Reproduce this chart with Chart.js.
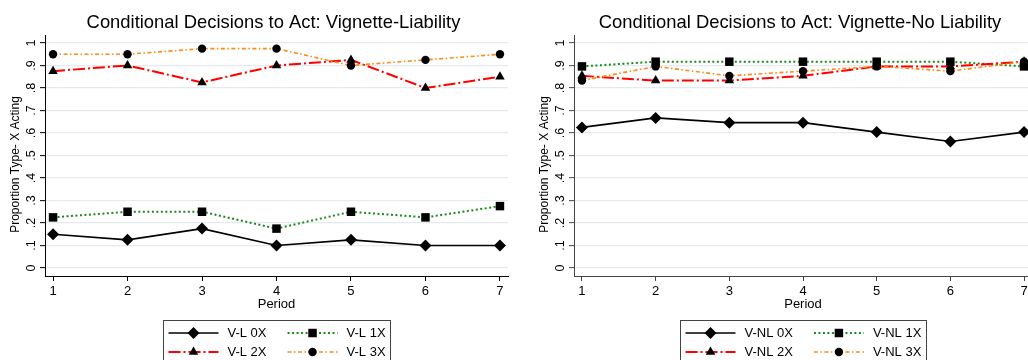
<!DOCTYPE html>
<html><head><meta charset="utf-8">
<script src="https://cdn.jsdelivr.net/npm/chart.js@4.4.1/dist/chart.umd.min.js"></script>
<style>
html,body{margin:0;padding:0;background:#fff;width:1028px;height:360px;overflow:hidden;}
#wrap{position:relative;width:1028px;height:360px;overflow:hidden;background:#fff;}
canvas{position:absolute;top:0;}
</style></head><body>
<div id="wrap">
<canvas id="c1" width="514" height="360" style="left:0px"></canvas>
<canvas id="c2" width="509" height="360" style="left:529px"></canvas>
</div>
<script>
const FAM = '"Liberation Sans", Arial, sans-serif';

const periods = [1, 2, 3, 4, 5, 6, 7];
const yTickValues = [0, 0.1, 0.2, 0.3, 0.4, 0.5, 0.6, 0.7, 0.8, 0.9, 1];
const yTickLabels = ['0', '.1', '.2', '.3', '.4', '.5', '.6', '.7', '.8', '.9', '1'];

const titleL = 'Conditional Decisions to Act: Vignette-Liability';
const titleR = 'Conditional Decisions to Act: Vignette-No Liability';
const yTitle = 'Proportion Type- X Acting';
const xTitle = 'Period';

const namesL = ['V-L 0X', 'V-L 1X', 'V-L 2X', 'V-L 3X'];
const namesR = ['V-NL 0X', 'V-NL 1X', 'V-NL 2X', 'V-NL 3X'];

const vL0X = [0.15, 0.125, 0.175, 0.10, 0.125, 0.10, 0.10];
const vL1X = [0.225, 0.25, 0.25, 0.175, 0.25, 0.225, 0.275];
const vL2X = [0.875, 0.90, 0.825, 0.90, 0.925, 0.80, 0.85];
const vL3X = [0.95, 0.95, 0.975, 0.975, 0.90, 0.925, 0.95];

const vNL0X = [0.625, 0.667, 0.646, 0.646, 0.604, 0.562, 0.604];
const vNL1X = [0.896, 0.917, 0.917, 0.917, 0.917, 0.917, 0.896];
const vNL2X = [0.854, 0.833, 0.833, 0.854, 0.896, 0.896, 0.917];
const vNL3X = [0.833, 0.896, 0.854, 0.875, 0.896, 0.875, 0.917];

const styles = [
  {color: '#000000', dash: [], width: 1.6, point: 'rectRot', r: 6},
  {color: '#1a8a1a', dash: [2, 2.5], width: 2, point: 'rect', r: 6},
  {color: '#ff0000', dash: [12, 3, 2, 3], width: 2, point: 'triangle', r: 5.5},
  {color: '#ff8a14', dash: [4, 2.5, 1.5, 2.5], width: 1.6, point: 'circle', r: 4.2}
];

const decor = {
  id: 'decor',
  afterDraw(chart, args, opts) {
    const ctx = chart.ctx, ca = chart.chartArea;
    const cx = (ca.left + ca.right) / 2;
    ctx.save();
    ctx.fillStyle = '#000';
    ctx.font = '18.4px ' + FAM;
    ctx.textAlign = 'center';
    ctx.textBaseline = 'alphabetic';
    ctx.fillText(opts.title, cx - 3, 27.5);
    ctx.restore();

    ctx.save();
    ctx.fillStyle = '#000';
    ctx.font = '12px ' + FAM;
    ctx.translate(ca.left - 29, (ca.top + ca.bottom) / 2 + 9);
    ctx.rotate(-Math.PI / 2);
    ctx.textAlign = 'center';
    ctx.textBaseline = 'middle';
    ctx.fillText(opts.yTitle, 0, 0);
    ctx.restore();

    // legend
    ctx.save();
    ctx.font = '13px ' + FAM;
    const ds = chart.data.datasets;
    const w = ds.map(d => ctx.measureText(d.label).width);
    const c1w = Math.max(w[0], w[2]), c2w = Math.max(w[1], w[3]);
    const boxW = 5 + 50 + 9 + c1w + 21 + 50 + 9 + c2w + 5;
    const boxL = Math.round(cx - boxW / 2) + 0.5;
    const boxT = Math.round(ca.bottom + 44) + 0.5;
    ctx.strokeStyle = '#444';
    ctx.lineWidth = 1;
    ctx.strokeRect(boxL, boxT, Math.round(boxW), 70);
    for (let i = 0; i < 4; i++) {
      const col = i % 2, row = Math.floor(i / 2);
      const y = ca.bottom + 57 + row * 19;
      const sx = boxL + 5 + (col ? 50 + 9 + c1w + 21 : 0);
      const st = styles[i];
      ctx.save();
      ctx.strokeStyle = st.color;
      ctx.lineWidth = st.width;
      ctx.setLineDash(st.dash);
      ctx.beginPath();
      ctx.moveTo(sx, y);
      ctx.lineTo(sx + 50, y);
      ctx.stroke();
      ctx.restore();
      ctx.fillStyle = '#000';
      ctx.strokeStyle = '#000';
      Chart.helpers.drawPoint(ctx, {pointStyle: st.point, radius: st.r, rotation: 0, borderWidth: 0}, sx + 25, y);
      ctx.fillStyle = '#000';
      ctx.textAlign = 'left';
      ctx.textBaseline = 'middle';
      ctx.fillText(ds[i].label, sx + 59, y);
    }
    ctx.restore();
  }
};

function makeChart(id, title, names, series, axisColor) {
  const datasets = series.map((s, i) => ({
    label: names[i],
    data: periods.map((p, j) => ({x: p, y: s[j]})),
    borderColor: styles[i].color,
    backgroundColor: styles[i].color,
    borderDash: styles[i].dash,
    borderWidth: styles[i].width,
    pointStyle: styles[i].point,
    pointRadius: styles[i].r,
    pointBackgroundColor: '#000',
    pointBorderColor: '#000',
    pointBorderWidth: 0,
    fill: false,
    tension: 0,
    clip: false,
    order: 3 - i
  }));
  return new Chart(document.getElementById(id), {
    type: 'line',
    data: {datasets},
    plugins: [decor],
    options: {
      responsive: false,
      animation: false,
      events: [],
      layout: {padding: {top: 35, right: 6, bottom: 44, left: 0}},
      plugins: {
        legend: {display: false},
        tooltip: {enabled: false},
        title: {display: false},
        decor: {title: title, yTitle: yTitle}
      },
      scales: {
        x: {
          type: 'linear',
          min: 0.892, max: 7.108,
          afterBuildTicks: s => { s.ticks = periods.map(v => ({value: v})); },
          afterFit: s => { s.height = 40; },
          grid: {display: true, drawOnChartArea: false, drawTicks: true, tickLength: 5, tickColor: axisColor, tickWidth: 1},
          border: {display: true, color: axisColor, width: 1},
          ticks: {font: {family: FAM, size: 13}, color: '#000', padding: 3, maxRotation: 0, minRotation: 0, autoSkip: false,
                  callback: v => String(v)},
          title: {display: true, text: xTitle, font: {family: FAM, size: 13}, color: '#000', padding: {top: 0, bottom: 4}}
        },
        y: {
          type: 'linear',
          min: -0.0356, max: 1.0356,
          afterBuildTicks: s => { s.ticks = yTickValues.map(v => ({value: v})); },
          afterFit: s => { s.width = 45; },
          grid: {color: '#e3ebee', lineWidth: 1.3, drawTicks: true, tickLength: 5, tickColor: axisColor, tickWidth: 1},
          border: {display: true, color: axisColor, width: 1},
          ticks: {font: {family: FAM, size: 12.5}, color: '#000', padding: 3, minRotation: 90, maxRotation: 90,
                  crossAlign: 'center', autoSkip: false,
                  callback: (v, i) => yTickLabels[i]},
          title: {display: false}
        }
      }
    }
  });
}

makeChart('c1', titleL, namesL, [vL0X, vL1X, vL2X, vL3X], '#000');
makeChart('c2', titleR, namesR, [vNL0X, vNL1X, vNL2X, vNL3X], '#444');
</script>
</body></html>
